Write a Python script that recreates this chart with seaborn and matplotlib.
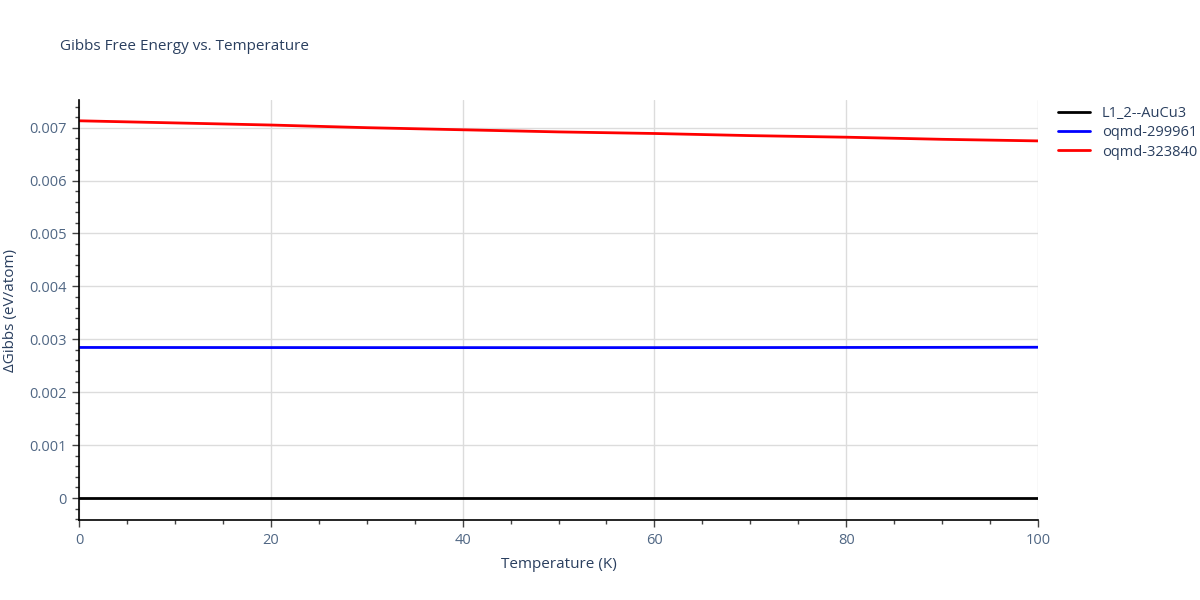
import matplotlib
matplotlib.use("Agg")
import matplotlib.pyplot as plt
from matplotlib.ticker import MultipleLocator, FuncFormatter
import seaborn as sns
import pandas as pd

# Temperaturen (K) und Gibbs-Energien (eV/atom)
temps = [0, 10, 20, 30, 40, 50, 60, 70, 80, 90, 100]
g_l12 = [0, 0, 0, 0, 0, 0, 0, 0, 0, 0, 0]
g_299961 = [0.002846, 0.002845, 0.002844, 0.002843, 0.002843, 0.002842,
            0.002843, 0.002844, 0.002846, 0.002848, 0.00285]
g_323840 = [0.00713, 0.00709, 0.00705, 0.00700, 0.00696, 0.00692,
            0.00689, 0.00685, 0.00682, 0.00678, 0.00675]
names = ["L1_2--AuCu3", "oqmd-299961", "oqmd-323840"]
colors = ["black", "blue", "red"]

df = pd.concat([
    pd.DataFrame({"T": temps, "G": g, "name": n})
    for g, n in zip([g_l12, g_299961, g_323840], names)
])

sns.set_style("white")
plt.rcParams["font.family"] = ["Open Sans", "DejaVu Sans"]
text_col = "#2a3f5f"
tick_col = "#506784"

fig = plt.figure(figsize=(12, 6), dpi=100)
ax = fig.add_axes([79 / 1200, 80 / 600, (1038 - 79) / 1200, 420 / 600])

sns.lineplot(data=df, x="T", y="G", hue="name", palette=colors,
             linewidth=2, ax=ax, legend=True)

ax.set_xlim(0, 100)
ax.set_ylim(-0.000415, 0.007523)
ax.xaxis.set_major_locator(MultipleLocator(20))
ax.xaxis.set_minor_locator(MultipleLocator(5))
ax.yaxis.set_major_locator(MultipleLocator(0.001))
ax.yaxis.set_minor_locator(MultipleLocator(0.0002))
ax.yaxis.set_major_formatter(FuncFormatter(lambda v, p: "0" if abs(v) < 1e-9 else f"{v:.3f}"))
ax.grid(True, which="major", color="#dcdcdc", linewidth=1)
ax.set_axisbelow(True)

for s in ["top", "right"]:
    ax.spines[s].set_visible(False)
for s in ["left", "bottom"]:
    ax.spines[s].set_color("black")
    ax.spines[s].set_linewidth(1.2)

ax.tick_params(which="major", direction="out", length=5, width=1, color="#444444",
               labelsize=10.5, labelcolor=tick_col, pad=4)
ax.tick_params(which="minor", direction="out", length=3, width=1, color="#444444")
ax.tick_params(axis="x", which="both", bottom=True)
ax.tick_params(axis="y", which="both", left=True)

ax.set_xlabel("Temperature (K)", fontsize=11, color=text_col, labelpad=7)
ax.set_ylabel("ΔGibbs (eV/atom)", fontsize=11, color=text_col, labelpad=8)
fig.text(60 / 1200, 1 - 46 / 600, "Gibbs Free Energy vs. Temperature",
         fontsize=11, color=text_col, va="center", ha="left")

leg = ax.legend(loc="upper left", bbox_to_anchor=(1.015, 1.0), frameon=False,
                fontsize=10.5, handlelength=2.2, labelspacing=0.3, borderaxespad=0)
for t in leg.get_texts():
    t.set_color(text_col)

fig.savefig("out.png", dpi=100)
